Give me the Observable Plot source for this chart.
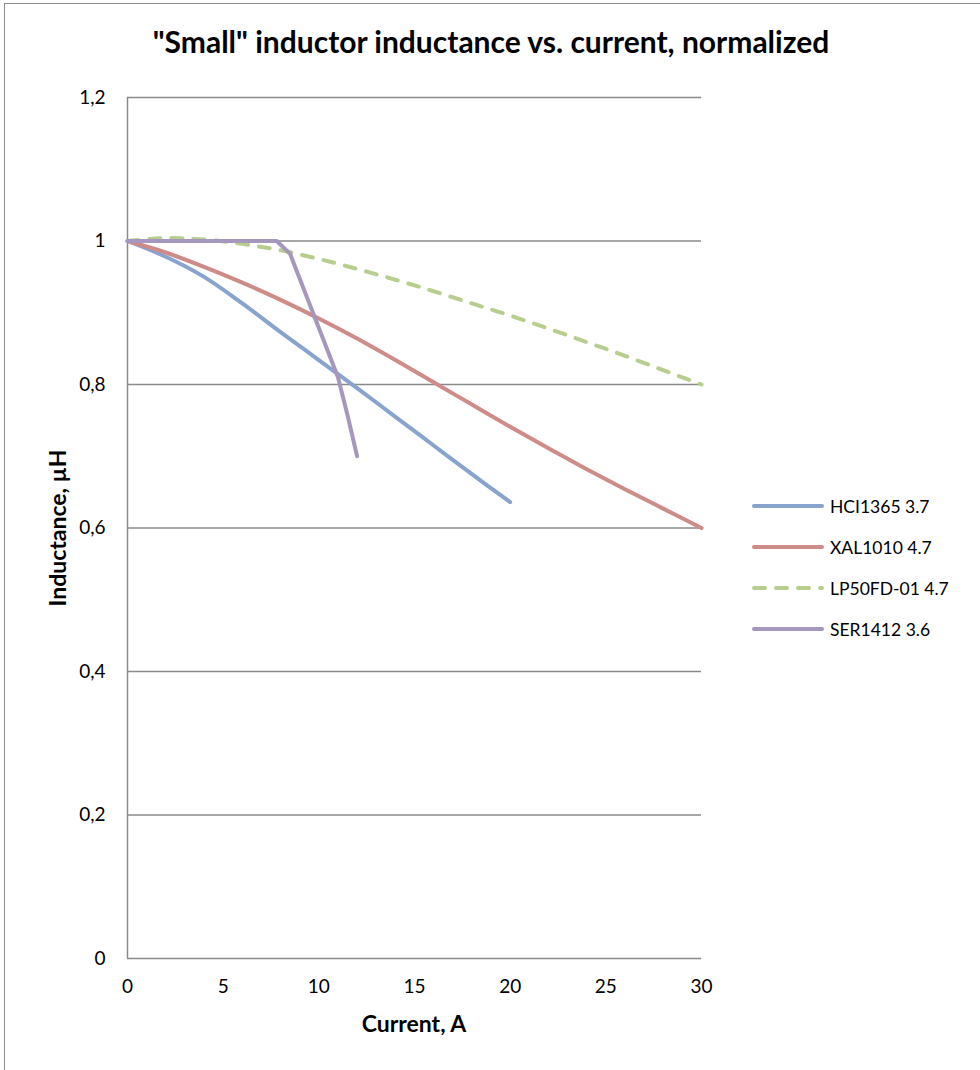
<!DOCTYPE html>
<html>
<head>
<meta charset="utf-8">
<script src="https://cdn.jsdelivr.net/npm/d3@7"></script>
<script src="https://cdn.jsdelivr.net/npm/@observablehq/plot@0.6"></script>
<style>
  html, body { margin: 0; padding: 0; background: #fff; }
  #wrap { position: relative; width: 980px; height: 1070px; overflow: hidden; font-family: Lato, "Open Sans", sans-serif; color: #000; }
  #frame { position: absolute; left: 4px; top: 3px; width: 1000px; height: 1100px; border: 1px solid #8c8c8c; box-sizing: border-box; pointer-events: none; }
  #title { position: absolute; left: 0; width: 982px; top: 23px; text-align: center; font-weight: bold; font-size: 30px; white-space: nowrap; }
  #ylab { position: absolute; left: 57px; top: 528px; transform: translate(-50%, -50%) rotate(-90deg); font-weight: bold; font-size: 23px; white-space: nowrap; }
  #xlab { position: absolute; left: 414px; top: 1009px; transform: translateX(-50%); font-weight: bold; font-size: 23px; white-space: nowrap; }
  #legend { position: absolute; left: 752px; top: 0; }
  .li { position: absolute; left: 0; height: 24px; display: flex; align-items: center; white-space: nowrap; font-size: 17.5px; }
  .li svg { margin-right: 6px; }
  #chart { position: absolute; left: 0; top: 0; }
</style>
</head>
<body>
<div id="wrap">
  <div id="chart"></div>
  <div id="frame"></div>
  <div id="title"></div>
  <div id="ylab"></div>
  <div id="xlab"></div>
  <div id="legend"></div>
</div>
<script>
const titleText = "\"Small\" inductor inductance vs. current, normalized";
const xLabel = "Current, A";
const yLabel = "Inductance, µH";

const xTicks = [0, 5, 10, 15, 20, 25, 30];
const yTicks = [0, 0.2, 0.4, 0.6, 0.8, 1, 1.2];

const seriesNames = ["HCI1365 3.7", "XAL1010 4.7", "LP50FD-01 4.7", "SER1412 3.6"];
const seriesColors = ["#87a3ce", "#ce8b87", "#b7ce8e", "#a697be"];
const seriesDash = [null, null, "11 11", null];

// HCI1365 3.7
const hciCurrent = [0, 2, 4, 6, 8, 10, 12, 14, 16, 18, 20];
const hciL = [1, 0.978, 0.95, 0.913, 0.873, 0.834, 0.795, 0.755, 0.715, 0.675, 0.636];
// XAL1010 4.7
const xalCurrent = [0, 2, 4, 6, 8, 10, 12, 14, 16, 18, 20, 22, 24, 26, 28, 30];
const xalL = [1, 0.984, 0.964, 0.942, 0.918, 0.892, 0.864, 0.834, 0.803, 0.772, 0.741, 0.711, 0.682, 0.654, 0.627, 0.6];
// LP50FD-01 4.7
const lpCurrent = [0, 2, 4, 6, 8, 10, 12, 14, 16, 18, 20, 22, 24, 26, 28, 30];
const lpL = [1, 1.004, 1.002, 0.996, 0.987, 0.975, 0.961, 0.946, 0.93, 0.913, 0.896, 0.878, 0.859, 0.84, 0.82, 0.8];
// SER1412 3.6
const serCurrent = [0, 2, 4, 6, 7.8, 8.5, 11, 11.5, 12];
const serL = [1, 1, 1, 1, 1, 0.982, 0.81, 0.757, 0.7];

const currents = [hciCurrent, xalCurrent, lpCurrent, serCurrent];
const inductances = [hciL, xalL, lpL, serL];
const curves = ["catmull-rom", "catmull-rom", "catmull-rom", "linear"];

const rows = [];
seriesNames.forEach((name, i) => {
  currents[i].forEach((c, j) => rows.push({series: name, x: c, y: inductances[i][j]}));
});

const comma = d => d3.format("~g")(d).replace(".", ",");
const gridColor = "#8a8a8a";

const lineMarks = seriesNames.map((name, i) =>
  Plot.line(rows.filter(r => r.series === name), {
    x: "x", y: "y",
    stroke: seriesColors[i],
    strokeWidth: 4,
    strokeDasharray: seriesDash[i] || undefined,
    strokeLinecap: "round",
    strokeLinejoin: "round",
    curve: curves[i]
  })
);

const plot = Plot.plot({
  width: 980,
  height: 1070,
  marginLeft: 127,
  marginRight: 279,
  marginTop: 97,
  marginBottom: 112,
  style: { fontFamily: "Lato, 'Open Sans', sans-serif", fontSize: "19px", color: "#000", background: "transparent" },
  x: { domain: [0, 30] },
  y: { domain: [0, 1.2] },
  marks: [
    Plot.gridY(yTicks, { stroke: gridColor, strokeOpacity: 1, strokeWidth: 1.5 }),
    Plot.ruleX([0], { stroke: gridColor, strokeWidth: 1.5 }),
    Plot.axisY(yTicks, { tickSize: 0, tickPadding: 22, tickFormat: comma, label: null, fontSize: 19 }),
    Plot.axisX(xTicks, { tickSize: 0, tickPadding: 21, tickFormat: comma, label: null, fontSize: 19 }),
    ...lineMarks
  ]
});
document.getElementById("chart").appendChild(plot);

document.getElementById("title").textContent = titleText;
document.getElementById("ylab").textContent = yLabel;
document.getElementById("xlab").textContent = xLabel;

const legendTops = [506, 547, 588, 629];
const legend = document.getElementById("legend");
seriesNames.forEach((name, i) => {
  const item = document.createElement("div");
  item.className = "li";
  item.style.top = (legendTops[i] - 12) + "px";
  const dash = seriesDash[i] ? `stroke-dasharray="${seriesDash[i]}"` : "";
  item.innerHTML = `<svg width="72" height="10"><line x1="2" y1="5" x2="70" y2="5" stroke="${seriesColors[i]}" stroke-width="4" stroke-linecap="round" ${dash}/></svg>`;
  const span = document.createElement("span");
  span.textContent = name;
  item.appendChild(span);
  legend.appendChild(item);
});
</script>
</body>
</html>
